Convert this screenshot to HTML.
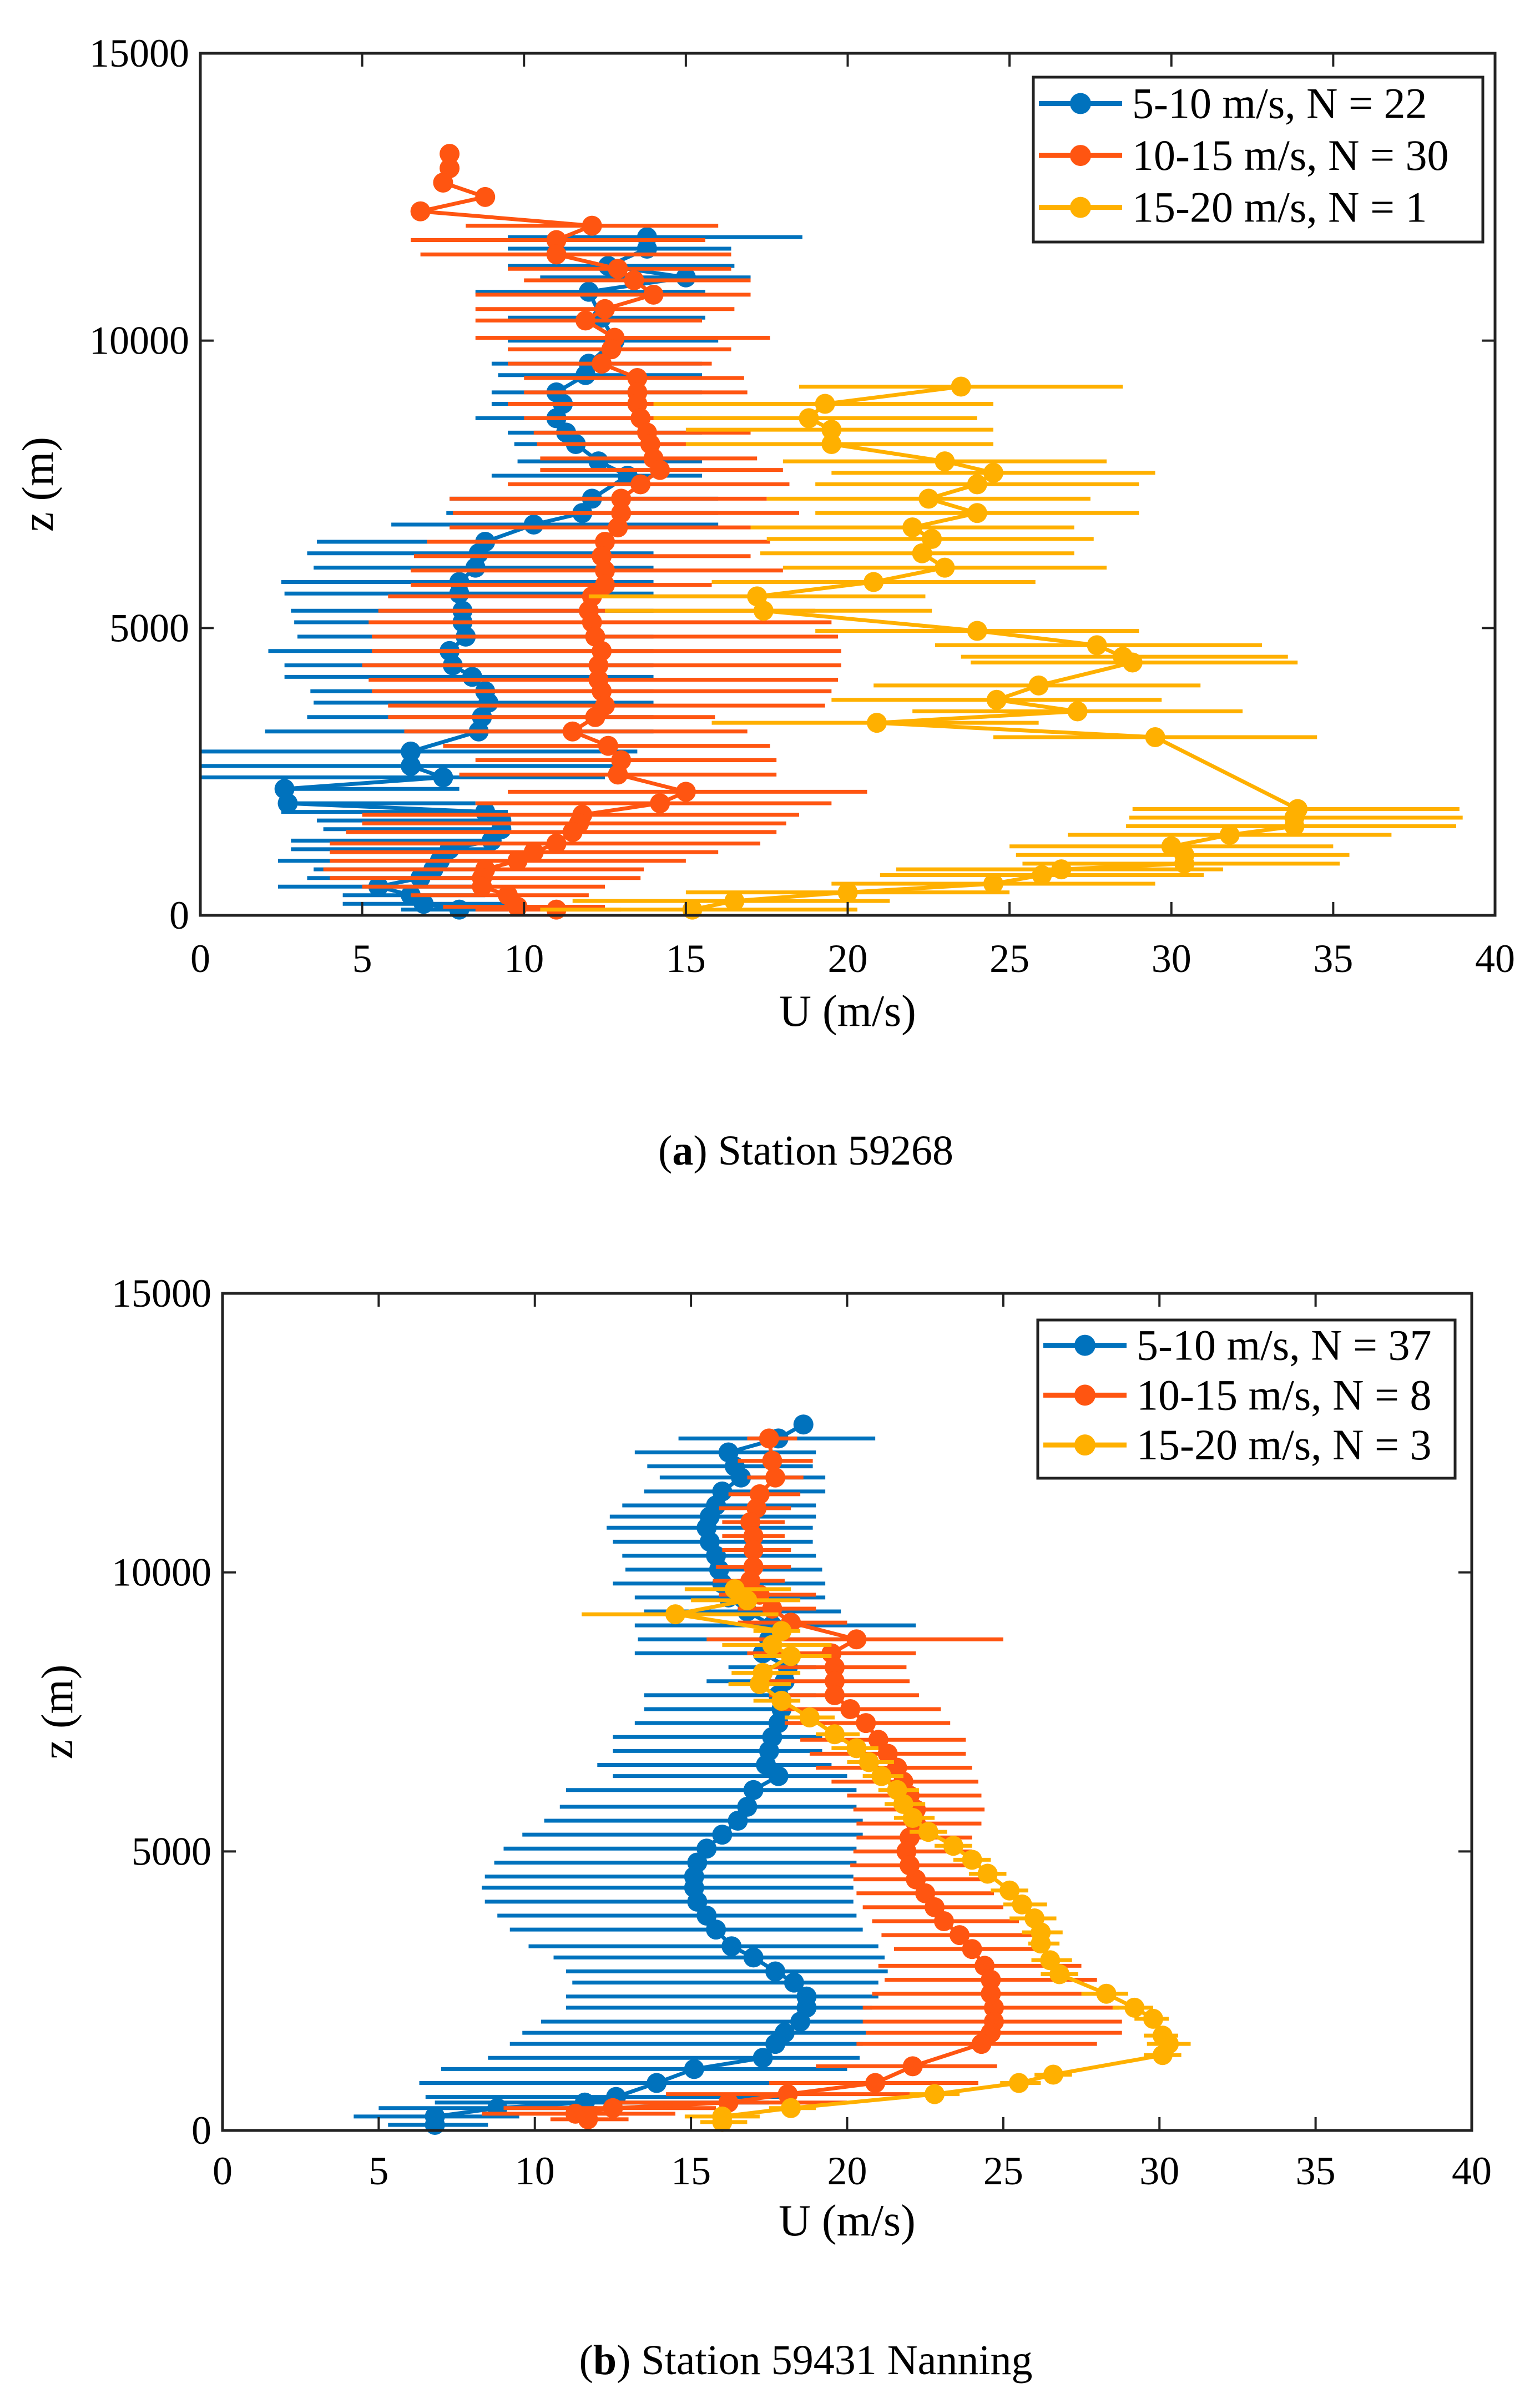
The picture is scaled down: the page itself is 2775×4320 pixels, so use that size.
<!DOCTYPE html>
<html><head><meta charset="utf-8"><style>
html,body{margin:0;padding:0;background:#fff;}
svg{display:block;}
text{font-family:"Liberation Serif","Times New Roman","DejaVu Serif",serif;}
</style></head><body>
<svg id="fig" width="2775" height="4320" viewBox="0 0 2775 4320" xmlns="http://www.w3.org/2000/svg" font-family="Liberation Serif, serif">
<rect width="2775" height="4320" fill="#fff"/>
<g id="chartA"></g>
<g id="chartB"></g>
<text x="1452" y="2098" font-size="76" text-anchor="middle" font-family="Liberation Serif, serif">(<tspan font-weight="bold">a</tspan>) Station 59268</text>
<text x="1452" y="4277" font-size="76" text-anchor="middle" font-family="Liberation Serif, serif">(<tspan font-weight="bold">b</tspan>) Station 59431 Nanning</text>
</svg>
<script>
const xTicks=[0,5,10,15,20,25,30,35,40];
const yTicks=[0,5000,10000,15000];
const seriesLabelsA=["5-10 m/s, N = 22","10-15 m/s, N = 30","15-20 m/s, N = 1"];
const seriesLabelsB=["5-10 m/s, N = 37","10-15 m/s, N = 8","15-20 m/s, N = 3"];
const colors=["#0072BD","#FF5511","#FFB000"];
// Station 59268 — [z, U, lo, hi]
const aBlue=[[11800,13.8,9.5,18.6],[11600,13.8,9.5,16.4],[11300,12.6,9.5,16.5],[11100,15.0,10.5,17.0],[10850,12.0,8.5,15.6],[10400,12.4,9.5,15.6],[10000,12.8,9.5,16],[9600,12.0,9.0,15.5],[9400,11.9,9.2,15.5],[9100,11.0,9.0,15.5],[8900,11.2,9.0,15.5],[8650,11.0,8.5,15.5],[8400,11.3,9.5,15.5],[8200,11.6,9.7,15.5],[7900,12.3,9.8,15.5],[7650,13.2,9.0,15.5],[7250,12.1,7.7,16],[7000,11.8,7.6,16],[6800,10.3,5.9,16],[6500,8.8,3.6,14],[6300,8.6,3.3,14],[6050,8.5,3.5,14],[5800,8.0,2.5,14],[5600,8.0,2.6,14],[5300,8.1,2.8,14],[5100,8.1,2.9,14],[4850,8.2,3.0,14],[4600,7.7,2.1,14],[4350,7.8,2.6,14],[4150,8.4,2.6,14],[3900,8.8,3.4,14],[3700,8.9,3.5,14],[3450,8.7,3.3,14],[3200,8.6,2.0,14],[2850,6.5,0,13.5],[2600,6.5,0,13],[2400,7.5,0,12.5],[2200,2.6,2.3,8],[1950,2.7,2.6,8.5],[1800,8.8,2.5,9.5],[1650,9.3,3.6,9.5],[1500,9.3,3.8,9.5],[1300,9.0,2.8,9.3],[1150,7.7,2.8,9.0],[950,7.4,2.4,8.5],[800,7.2,3.5,8.5],[650,6.8,3.3,8.5],[500,5.5,2.4,8.5],[350,6.5,4.4,8.8],[200,6.9,4.4,9.5],[100,8.0,6.2,9.5]];
const aOrange=[[13250,7.7,7.7,7.7],[13000,7.7,7.7,7.7],[12750,7.5,7.5,7.5],[12500,8.8,8.8,8.8],[12250,6.8,6.8,6.8],[12000,12.1,8.2,16],[11750,11.0,6.5,15.6],[11500,11.0,6.8,16.4],[11250,12.9,9.5,16.4],[11050,13.4,10,17],[10800,14.0,8.5,17.0],[10550,12.5,8.5,16.5],[10350,11.9,8.5,15.5],[10050,12.8,8.5,17.6],[9850,12.7,9.5,16.4],[9600,12.4,9.5,15.8],[9350,13.5,10,16.8],[9100,13.5,10,16.9],[8900,13.5,9.5,16.5],[8650,13.6,10,17],[8400,13.8,10.3,17.0],[8200,13.9,10.4,17.0],[7950,14.0,10.5,17.2],[7750,14.2,10.5,18.0],[7500,13.6,9.5,18.2],[7250,13.0,7.7,17.5],[7000,13.0,7.8,18.5],[6750,12.9,7.7,17.0],[6500,12.5,7.0,17.6],[6250,12.4,6.6,17.0],[6000,12.5,6.5,18.0],[5750,12.5,6.5,15.8],[5550,12.1,5.8,18.0],[5300,12.0,5.5,19.0],[5100,12.1,5.2,19.5],[4850,12.2,5.3,19.7],[4600,12.4,5.3,19.8],[4350,12.3,5.0,19.8],[4100,12.3,5.2,19.7],[3900,12.4,5.3,19.5],[3650,12.5,5.8,19.3],[3450,12.2,5.8,15.9],[3200,11.5,6.3,16.9],[2950,12.6,7.5,17.6],[2700,13.0,8.5,17.8],[2450,12.9,8.0,17.8],[2150,15.0,9.5,20.6],[1950,14.2,8.5,19.5],[1750,11.8,5.0,18.5],[1600,11.7,5.0,18.1],[1450,11.5,4.5,17.8],[1250,11.0,4.0,17.3],[1100,10.3,4.0,16.0],[950,9.8,4.0,15.0],[800,8.8,3.8,13.7],[650,8.7,4.0,13.6],[500,8.7,5.0,12.5],[350,9.5,6.5,12.0],[150,9.8,7.5,12.5],[100,11.0,8.5,13.0]];
const aYellow=[[9200,23.5,18.5,28.5],[8900,19.3,14,24.5],[8650,18.8,14,24.0],[8450,19.5,15,24.5],[8200,19.5,15,24.5],[7900,23.0,18,28.0],[7700,24.5,19.5,29.5],[7500,24.0,19,29.0],[7250,22.5,17.5,27.5],[7000,24.0,19,29.0],[6750,22.0,17,27.0],[6550,22.6,17.5,27.6],[6300,22.3,17.3,27.0],[6050,23.0,18,28.0],[5800,20.8,15.8,25.8],[5550,17.2,12,22.4],[5300,17.4,12.5,22.6],[4950,24.0,19,29.0],[4700,27.7,22.7,32.8],[4500,28.5,23.5,33.6],[4400,28.8,23.8,33.9],[4000,25.9,20.8,30.9],[3750,24.6,19.5,29.7],[3550,27.1,22,32.2],[3350,20.9,15.8,25.9],[3100,29.5,24.5,34.5],[1850,33.9,28.8,38.9],[1700,33.8,28.7,39.0],[1550,33.8,28.6,38.8],[1400,31.8,26.8,36.8],[1200,30.0,25,35],[1050,30.4,25.2,35.5],[900,30.4,25.4,35.2],[800,26.6,21.5,31.6],[700,26.0,21,31.0],[550,24.5,19.5,29.5],[400,20.0,15,25.0],[250,16.5,11.5,21.3],[100,15.2,10.5,20.3]];
// Station 59431 Nanning
const bBlue=[[12650,18.6,18.6,18.6],[12400,17.8,14.6,20.9],[12150,16.2,13.2,19.0],[11900,16.4,13.6,18.9],[11700,16.6,14.0,19.3],[11450,16.0,13.5,19.3],[11200,15.8,12.8,19.0],[11000,15.6,12.4,19.0],[10800,15.5,12.3,18.9],[10550,15.6,12.5,18.9],[10300,15.8,12.8,19.0],[10050,15.9,12.9,19.2],[9800,16.0,12.5,19.3],[9550,16.2,13.2,19.3],[9300,16.8,13.5,19.8],[9050,17.6,13.2,22.2],[8800,17.5,13.3,19.8],[8550,17.3,13.2,19.0],[8300,18.1,16.2,19.0],[8050,18.0,15.5,18.3],[7800,17.8,13.5,19.0],[7550,17.9,13.5,19.0],[7300,17.8,13.2,19.0],[7050,17.6,12.5,19.2],[6800,17.5,12.5,19.2],[6550,17.4,12.0,19.5],[6350,17.8,12.5,20.0],[6100,17.0,11.0,20.3],[5800,16.8,10.8,20.3],[5550,16.5,10.3,20.5],[5300,16.0,9.6,20.5],[5050,15.5,9.0,20.3],[4800,15.2,8.7,20.3],[4550,15.1,8.4,20.2],[4350,15.1,8.3,20.2],[4100,15.2,8.4,20.2],[3850,15.5,8.8,20.3],[3600,15.8,9.2,20.5],[3300,16.3,9.8,21.0],[3100,17.0,10.6,21.2],[2850,17.7,11.0,21.3],[2650,18.3,11.2,21.0],[2400,18.7,11.0,21.0],[2200,18.7,11.0,20.8],[1950,18.5,10.2,20.7],[1750,18.0,9.6,20.6],[1550,17.7,9.2,20.5],[1300,17.3,8.5,20.4],[1100,15.1,7.0,20.0],[850,13.9,6.3,19.0],[600,12.6,6.5,18.0],[500,11.6,6.8,17.5],[400,8.8,5.0,12.0],[250,6.8,4.2,9.5],[100,6.8,5.3,8.5]];
const bOrange=[[12400,17.5,16.8,18.4],[12000,17.6,16.5,18.9],[11700,17.7,16.8,18.6],[11400,17.2,16.2,18.5],[11150,17.1,15.9,18.2],[10900,16.9,16.0,18.0],[10650,17.0,16.0,18.0],[10400,17.0,16.0,18.2],[10100,17.0,15.8,18.2],[9850,16.9,15.7,18.0],[9600,17.2,15.9,19.0],[9350,17.6,16.5,19.0],[9100,18.2,16.5,20.0],[8800,20.3,15.5,25.0],[8550,19.5,16.8,22.2],[8300,19.6,17.2,21.9],[8050,19.6,17.5,22.0],[7800,19.6,17.5,22.3],[7550,20.1,17.8,23.0],[7300,20.6,18.0,23.3],[7000,21.0,18.5,23.8],[6750,21.3,18.8,23.8],[6500,21.6,19.0,24.0],[6250,21.8,19.5,24.2],[6000,22.0,20.0,24.3],[5750,22.2,20.2,24.4],[5500,22.2,20.3,24.3],[5250,22.0,20.3,24.0],[5000,21.9,20.2,24.0],[4750,22.0,20.1,24.1],[4500,22.2,20.2,24.4],[4250,22.5,20.3,24.7],[4000,22.8,20.5,25.0],[3750,23.1,20.8,25.5],[3500,23.6,21.1,26.0],[3250,24.0,21.5,26.4],[2950,24.4,21.0,27.5],[2700,24.6,21.2,28.0],[2450,24.6,20.8,28.2],[2200,24.7,20.5,28.7],[1950,24.7,20.5,28.8],[1750,24.6,20.6,28.8],[1550,24.3,20.3,28.0],[1150,22.1,19.0,24.8],[850,20.9,17.5,24.2],[650,18.1,14.2,22.0],[500,16.2,12.5,20.0],[400,12.5,9.0,15.8],[300,11.3,8.3,14.5],[200,11.7,10.5,13.0]];
const bYellow=[[9700,16.4,14.8,18.2],[9500,16.8,15.0,18.5],[9250,14.5,11.5,17.8],[8950,17.9,17.0,18.5],[8700,17.6,16.0,19.5],[8500,18.2,17.0,19.5],[8200,17.3,16.3,18.5],[8000,17.2,16.2,18.2],[7700,17.9,17.0,18.5],[7400,18.8,18.0,19.6],[7100,19.6,19.0,20.4],[6850,20.3,19.5,21.0],[6600,20.7,20.0,21.5],[6350,21.1,20.5,21.8],[6100,21.6,21.0,22.3],[5850,21.8,21.2,22.5],[5600,22.1,21.5,22.8],[5350,22.6,22.0,23.2],[5100,23.4,22.8,24.0],[4850,24.0,23.4,24.6],[4600,24.5,23.9,25.1],[4300,25.2,24.6,25.8],[4050,25.6,25.0,26.4],[3800,26.0,25.2,26.7],[3550,26.2,25.6,26.9],[3350,26.2,25.8,26.8],[3050,26.5,25.9,27.2],[2800,26.8,26.2,27.4],[2450,28.3,27.5,29.0],[2200,29.2,28.5,29.8],[2000,29.8,29.2,30.3],[1700,30.1,29.5,30.6],[1550,30.3,29.6,31.0],[1350,30.1,29.5,30.7],[1000,26.6,26.0,27.2],[850,25.5,24.9,26.2],[650,22.8,22.0,23.6],[400,18.2,17.5,19.0],[250,16.0,14.8,17.2],[150,16.0,15.3,16.8]];

const NS="http://www.w3.org/2000/svg";
const FF="Liberation Serif, serif";
function mk(tag,attrs,parent){const e=document.createElementNS(NS,tag);for(const k in attrs)e.setAttribute(k,attrs[k]);parent.appendChild(e);return e;}

function drawChart(g,box,series,labels,leg,xLabelY,yLabelX,tickLabelY){
  const {L,R,T,B}=box;
  const sx=u=>L+(u-0)/(40-0)*(R-L);
  const sy=z=>B-(z-0)/(15000-0)*(B-T);
  const plot=mk('g',{},g);
  
  
  series.forEach((data,si)=>{
    const sg=mk('g',{},plot);
    
    
    const c=colors[si];
    data.forEach(d=>{
      if(d[3]>d[2]){
        const l=mk('line',{x1:sx(d[2]),x2:sx(d[3]),y1:sy(d[0]),y2:sy(d[0]),stroke:c,'stroke-width':7},sg);
        
        
      }
    });
    const pts=data.map(d=>sx(d[1]).toFixed(1)+','+sy(d[0]).toFixed(1)).join(' ');
    const pl=mk('polyline',{points:pts,fill:'none',stroke:c,'stroke-width':7,'stroke-linejoin':'round'},sg);
    
    
    data.forEach(d=>{
      const m=mk('circle',{cx:sx(d[1]),cy:sy(d[0]),r:18,fill:c},sg);
      
      
    });
  });
  const ax=mk('rect',{x:L,y:T,width:R-L,height:B-T,fill:'none',stroke:'#222','stroke-width':5},g);
  
  
  xTicks.forEach(t=>{
    const x=sx(t);
    mk('line',{x1:x,x2:x,y1:B,y2:B-24,stroke:'#222','stroke-width':4},g);
    mk('line',{x1:x,x2:x,y1:T,y2:T+24,stroke:'#222','stroke-width':4},g);
    const tx=mk('text',{x:x,y:tickLabelY,'font-size':72,'text-anchor':'middle','font-family':FF},g);
    tx.textContent=t;
    
    
  });
  yTicks.forEach(t=>{
    const y=sy(t);
    mk('line',{x1:L,x2:L+24,y1:y,y2:y,stroke:'#222','stroke-width':4},g);
    mk('line',{x1:R,x2:R-24,y1:y,y2:y,stroke:'#222','stroke-width':4},g);
    const tx=mk('text',{x:L-20,y:y+24,'font-size':72,'text-anchor':'end','font-family':FF},g);
    tx.textContent=t;
    
    
  });
  const xl=mk('text',{x:(L+R)/2,y:xLabelY,'font-size':80,'text-anchor':'middle','font-family':FF},g);
  xl.textContent='U (m/s)';
  
  
  const yl=mk('text',{x:0,y:0,'font-size':80,'text-anchor':'middle','font-family':FF,transform:`translate(${yLabelX},${(T+B)/2}) rotate(-90)`},g);
  yl.textContent='z (m)';
  
  
  const lg=mk('g',{},g);
  
  
  mk('rect',{x:leg.x,y:leg.y,width:leg.w,height:leg.h,fill:'#fff',stroke:'#222','stroke-width':5},lg);
  labels.forEach((lab,i)=>{
    const cy=leg.y+leg.h*(0.16+0.315*i);
    const e=mk('g',{},lg);
    
    
    mk('line',{x1:leg.x+10,x2:leg.x+160,y1:cy,y2:cy,stroke:colors[i],'stroke-width':9},e);
    mk('circle',{cx:leg.x+85,cy:cy,r:19,fill:colors[i]},e);
    const t=mk('text',{x:leg.x+178,y:cy+26,'font-size':78,'font-family':FF},e);
    t.textContent=lab;
  });
}
drawChart(document.getElementById('chartA'),{L:361,R:2694,T:96,B:1649},[aBlue,aOrange,aYellow],seriesLabelsA,{x:1862,y:139,w:810,h:297},1848,95,1751);
drawChart(document.getElementById('chartB'),{L:401,R:2652,T:2330,B:3838},[bBlue,bOrange,bYellow],seriesLabelsB,{x:1870,y:2378,w:752,h:285},4027,130,3935);
</script>
</body></html>
